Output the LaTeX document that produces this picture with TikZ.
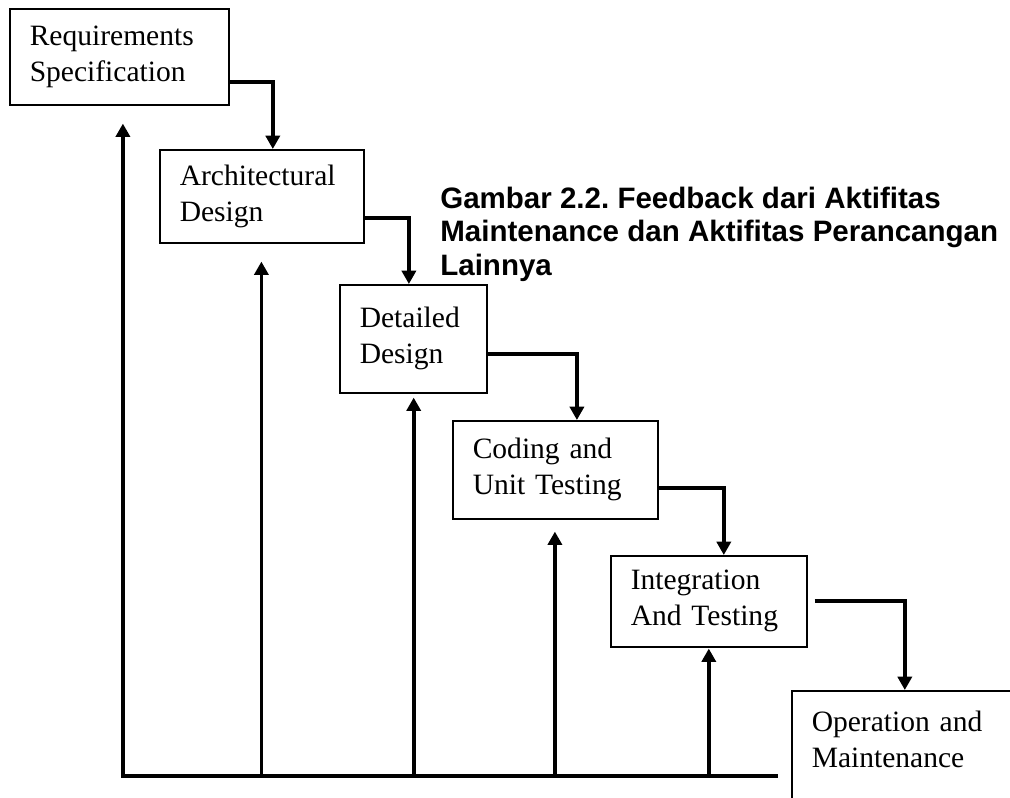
\documentclass[tikz,border=0pt]{standalone}
\usepackage{fontspec}
\setmainfont{Liberation Serif}
\newfontfamily\titlefont{Liberation Sans}
\usetikzlibrary{arrows.meta}
\frenchspacing

\tikzset{
  stage/.style={draw, line width=1.1pt, anchor=north west, align=left, inner xsep=0.5cm,
    font=\fontsize{21}{25.6}\selectfont},
  flowarrow/.style={line width=2.6pt, -{Triangle[width=10pt,length=9.5pt]}},
  titletext/.style={anchor=base west, align=left, inner sep=0pt,
    font=\titlefont\bfseries\fontsize{21}{23.5}\selectfont}
}

\begin{document}
\begin{tikzpicture}[x=0.025cm, y=-0.025cm]
  %%%%% START %%%%%
  \useasboundingbox (0,0) rectangle (1010,797);

  \node (req) [stage, text width=4.475cm, minimum height=2.4cm] at (9,8) {Requirements\\Specification};
  \node (arch) [stage, text width=4.1cm, minimum height=2.325cm] at (159,149) {Architectural\\Design};
  \node (det) [stage, text width=2.675cm, minimum height=2.7cm] at (339,284) {Detailed\\Design};
  \node (cod) [stage, text width=4.125cm, minimum height=2.45cm] at (452,420) {Coding and\\Unit Testing};
  \node (int) [stage, text width=3.9cm, minimum height=2.275cm] at (610,555) {Integration\\And Testing};
  \node (ops) [stage, text width=5cm, inner ysep=0.5cm] at (791,690) {Operation and\\Maintenance\\~\\~};

  % base anchor sits on the last line
  \node (title) [titletext] at (440,275) {Gambar 2.2. Feedback dari Aktifitas\\Maintenance dan Aktifitas Perancangan\\Lainnya};

  % from one stage down to the next
  \draw[flowarrow] ([yshift=-6.25mm]req.east) -| ([xshift=2.75mm]arch.north);
  \draw[flowarrow] ([yshift=-5.4mm]arch.east) -| ([xshift=-1.1mm]det.north);
  \draw[flowarrow] ([yshift=-3.75mm]det.east) -| ([xshift=5.4mm]cod.north);
  \draw[flowarrow] ([yshift=-4.5mm]cod.east) -| ([xshift=3.75mm]int.north);
  \draw[flowarrow] ([xshift=1.75mm]int.east) -| ([xshift=-1.75mm]ops.north);

  % feedback back up to every stage
  \coordinate (base) at (0,776);
  \coordinate (baseend) at (776,776);
  \draw[line width=2.6pt, line cap=rect] ([xshift=0.9mm]req.south |- base) -- (baseend);
  \foreach \n/\gap/\dx in {req/18/0.9,arch/18/-0.1,det/4/0.1,cod/12/-0.1,int/1/0}
    \draw[flowarrow] ([xshift=\dx mm]\n.south |- base) -- ([xshift=\dx mm, yshift=-\gap*0.025cm]\n.south);
  %%%%% END %%%%%
\end{tikzpicture}
\end{document}
